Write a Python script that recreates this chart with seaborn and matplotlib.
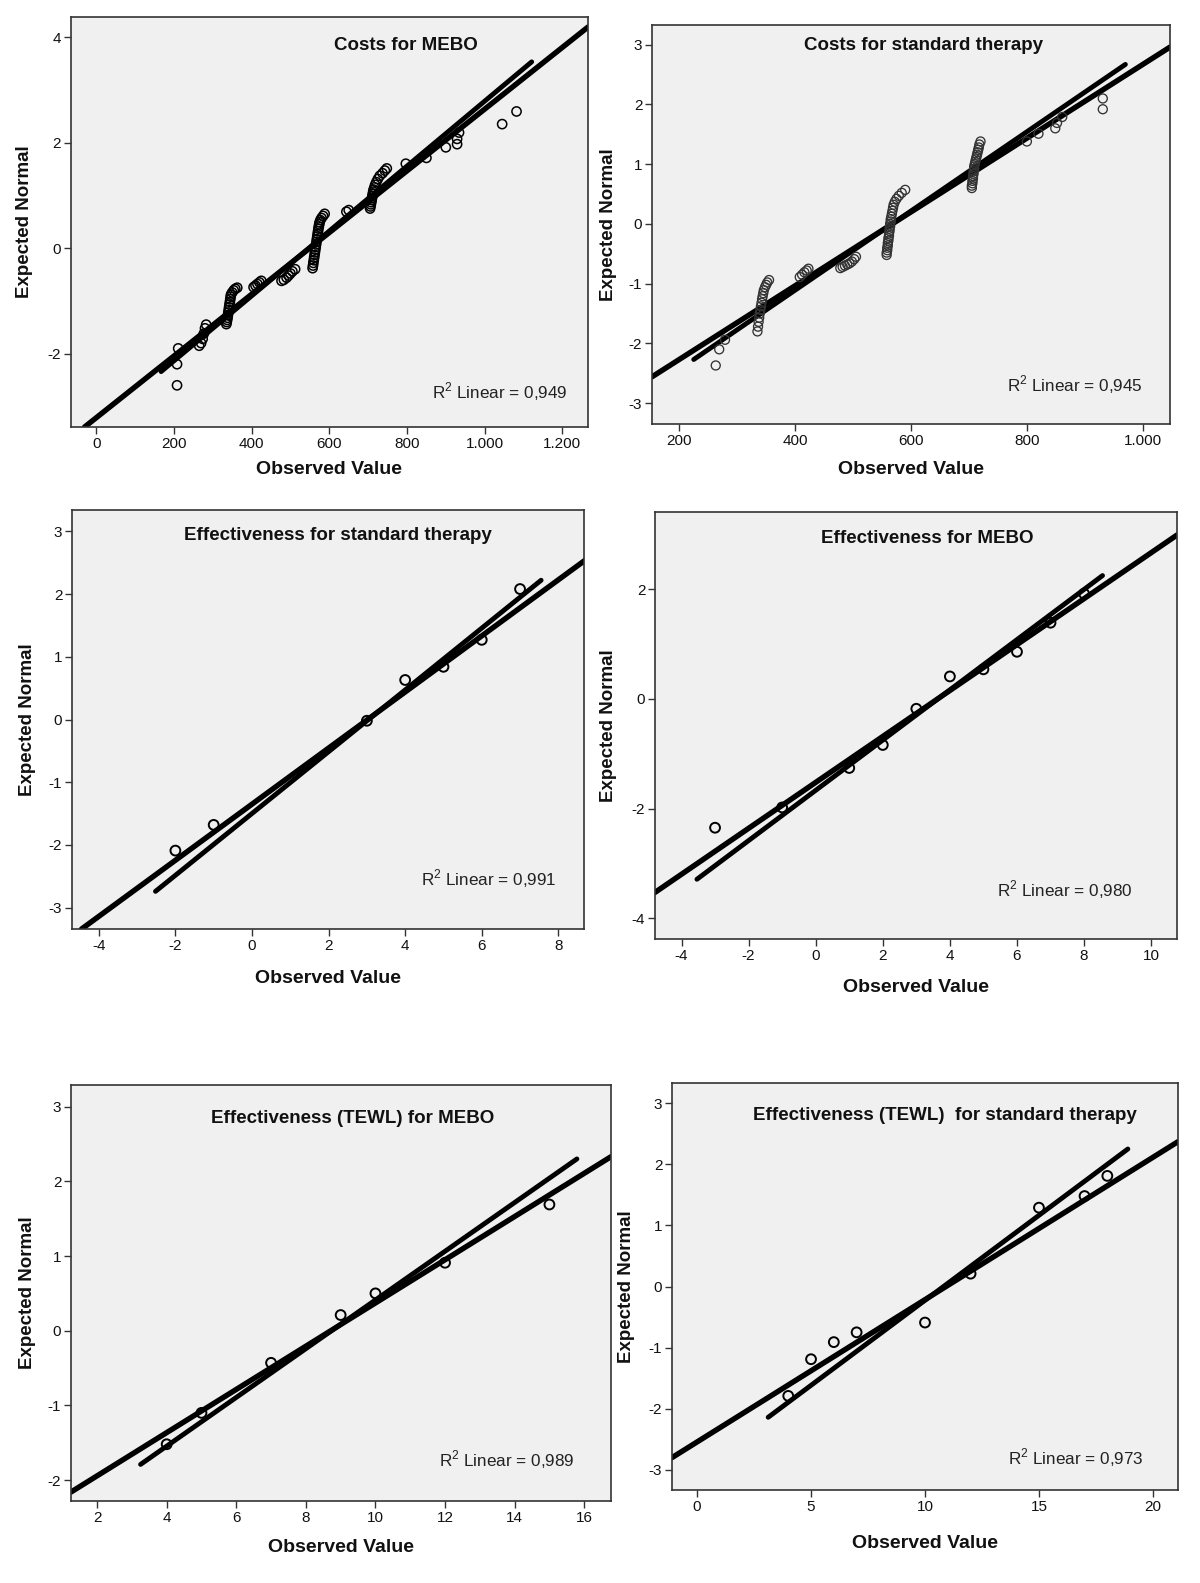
import matplotlib
matplotlib.use("Agg")
import matplotlib.pyplot as plt
import seaborn as sns

sns.set_theme(style="white")
plt.rcParams['font.family'] = ['Liberation Sans', 'DejaVu Sans']
plt.rcParams['mathtext.fontset'] = 'custom'
plt.rcParams['mathtext.rm'] = 'Liberation Sans'

# ---------------- data ----------------
# Panel 1: Costs for MEBO
p1_obs = [208, 208, 211,
          265, 270, 274, 277, 280, 283,
          335, 336, 337, 338, 339, 340, 341, 342, 343, 344, 345, 346, 347, 350, 354, 358, 363,
          405, 410, 415, 420, 425,
          477, 483, 490, 495, 500, 505, 512,
          557, 558, 559, 560, 561, 562, 563, 564, 565, 566, 567, 568, 569, 570, 571, 572, 573, 574, 575, 577, 580, 584, 588,
          644, 650,
          705, 706, 707, 708, 709, 710, 711, 712, 713, 714, 716, 718, 721, 725, 730, 737, 743, 748,
          797, 850, 900, 929, 929, 934, 1045, 1082]
p1_exp = [-2.60, -2.20, -1.90,
          -1.85, -1.80, -1.72, -1.62, -1.52, -1.45,
          -1.44, -1.40, -1.36, -1.32, -1.27, -1.22, -1.17, -1.12, -1.07, -1.02, -0.97, -0.92, -0.88, -0.84, -0.80, -0.77, -0.75,
          -0.74, -0.71, -0.68, -0.65, -0.62,
          -0.62, -0.60, -0.56, -0.52, -0.48, -0.44, -0.40,
          -0.38, -0.33, -0.28, -0.23, -0.18, -0.13, -0.08, -0.03, 0.02, 0.07, 0.12, 0.17, 0.22, 0.27, 0.32, 0.37, 0.41, 0.45, 0.49, 0.53, 0.57, 0.61, 0.65,
          0.69, 0.72,
          0.75, 0.79, 0.83, 0.87, 0.91, 0.95, 0.99, 1.03, 1.07, 1.11, 1.15, 1.20, 1.25, 1.31, 1.37, 1.42, 1.47, 1.51,
          1.60, 1.71, 1.91, 1.97, 2.07, 2.19, 2.35, 2.59]
p1_ref_x, p1_ref_y = [-30, 1266], [-3.39, 4.19]
p1_fit_x, p1_fit_y = [167, 1121], [-2.34, 3.53]
p1_xticks = [0, 200, 400, 600, 800, 1000, 1200]
p1_xlabels = ["0", "200", "400", "600", "800", "1.000", "1.200"]
p1_yticks = [-2, 0, 2, 4]
p1_title = "Costs for MEBO"
p1_r2 = "0,949"

# Panel 2: Costs for standard therapy
p2_obs = [263, 269, 279,
          335, 336, 337, 338, 339, 340, 341, 342, 343, 344, 345, 346, 348, 350, 352, 355,
          408, 412, 416, 420, 423,
          478, 482, 486, 490, 494, 498, 502, 505,
          558, 558, 559, 559, 560, 560, 561, 561, 562, 562, 563, 563, 564, 564, 565, 565, 566, 567, 568, 569, 570, 572, 575, 579, 584, 590,
          705, 705, 706, 706, 707, 707, 708, 708, 709, 709, 710, 711, 712, 713, 714, 715, 716, 717, 718, 720,
          800, 820, 849, 852, 861, 931, 931]
p2_exp = [-2.37, -2.10, -1.94,
          -1.80, -1.72, -1.64, -1.57, -1.50, -1.44, -1.38, -1.32, -1.26, -1.21, -1.16, -1.11, -1.06, -1.02, -0.98, -0.94,
          -0.89, -0.85, -0.81, -0.78, -0.75,
          -0.74, -0.72, -0.70, -0.68, -0.66, -0.63, -0.59, -0.55,
          -0.52, -0.48, -0.44, -0.40, -0.36, -0.32, -0.28, -0.24, -0.20, -0.16, -0.12, -0.08, -0.04, 0.00, 0.04, 0.08, 0.12, 0.17, 0.22, 0.27, 0.32, 0.37, 0.42, 0.47, 0.52, 0.57,
          0.60, 0.64, 0.68, 0.72, 0.76, 0.80, 0.84, 0.88, 0.92, 0.96, 1.00, 1.04, 1.08, 1.12, 1.16, 1.20, 1.24, 1.28, 1.33, 1.38,
          1.38, 1.51, 1.60, 1.69, 1.79, 1.92, 2.10]
p2_ref_x, p2_ref_y = [153, 1047], [-2.56, 2.96]
p2_fit_x, p2_fit_y = [225, 970], [-2.27, 2.67]
p2_xticks = [200, 400, 600, 800, 1000]
p2_xlabels = ["200", "400", "600", "800", "1.000"]
p2_yticks = [-3, -2, -1, 0, 1, 2, 3]
p2_title = "Costs for standard therapy"
p2_r2 = "0,945"

# Panel 3: Effectiveness for standard therapy
p3_obs = [-2, -1, 3, 4, 5, 6, 7]
p3_exp = [-2.09, -1.68, -0.02, 0.63, 0.84, 1.27, 2.08]
p3_ref_x, p3_ref_y = [-4.45, 8.7], [-3.34, 2.54]
p3_fit_x, p3_fit_y = [-2.52, 7.55], [-2.74, 2.22]
p3_xticks = [-4, -2, 0, 2, 4, 6, 8]
p3_xlabels = ["-4", "-2", "0", "2", "4", "6", "8"]
p3_yticks = [-3, -2, -1, 0, 1, 2, 3]
p3_title = "Effectiveness for standard therapy"
p3_r2 = "0,991"

# Panel 4: Effectiveness for MEBO
p4_obs = [-3, -1, 1, 2, 3, 4, 5, 6, 7, 8]
p4_exp = [-2.35, -1.98, -1.26, -0.84, -0.18, 0.41, 0.54, 0.86, 1.39, 1.92]
p4_ref_x, p4_ref_y = [-4.79, 10.77], [-3.53, 2.99]
p4_fit_x, p4_fit_y = [-3.54, 8.55], [-3.29, 2.25]
p4_xticks = [-4, -2, 0, 2, 4, 6, 8, 10]
p4_xlabels = ["-4", "-2", "0", "2", "4", "6", "8", "10"]
p4_yticks = [-4, -2, 0, 2]
p4_title = "Effectiveness for MEBO"
p4_r2 = "0,980"

# Panel 5: Effectiveness (TEWL) for MEBO
p5_obs = [4, 5, 7, 9, 10, 12, 15]
p5_exp = [-1.52, -1.10, -0.43, 0.21, 0.50, 0.91, 1.69]
p5_ref_x, p5_ref_y = [1.25, 16.77], [-2.16, 2.33]
p5_fit_x, p5_fit_y = [3.25, 15.79], [-1.79, 2.30]
p5_xticks = [2, 4, 6, 8, 10, 12, 14, 16]
p5_xlabels = ["2", "4", "6", "8", "10", "12", "14", "16"]
p5_yticks = [-2, -1, 0, 1, 2, 3]
p5_title = "Effectiveness (TEWL) for MEBO"
p5_r2 = "0,989"

# Panel 6: Effectiveness (TEWL) for standard therapy
p6_obs = [4, 5, 6, 7, 10, 12, 15, 17, 18]
p6_exp = [-1.79, -1.19, -0.91, -0.75, -0.59, 0.21, 1.29, 1.48, 1.81]
p6_ref_x, p6_ref_y = [-1.1, 21.1], [-2.80, 2.37]
p6_fit_x, p6_fit_y = [3.12, 18.9], [-2.14, 2.25]
p6_xticks = [0, 5, 10, 15, 20]
p6_xlabels = ["0", "5", "10", "15", "20"]
p6_yticks = [-3, -2, -1, 0, 1, 2, 3]
p6_title = "Effectiveness (TEWL)  for standard therapy"
p6_r2 = "0,973"

# ---------------- layout ----------------
W, H = 1200, 1583
fig = plt.figure(figsize=(W / 100, H / 100), dpi=100)
fig.patch.set_facecolor("white")

panels = [
    dict(obs=p1_obs, exp=p1_exp, rx=p1_ref_x, ry=p1_ref_y, fx=p1_fit_x, fy=p1_fit_y,
         xt=p1_xticks, xl=p1_xlabels, yt=p1_yticks, title=p1_title, r2=p1_r2,
         box=(70.6, 588, 17, 427), xlim=(-66, 1266), ylim=(-3.39, 4.38),
         tpos=(0.648, 0.93), rpos=(0.961, 0.085), ylab_px=25, xlab_py=470,
         ms=44, mlw=1.1, mec="black"),
    dict(obs=p2_obs, exp=p2_exp, rx=p2_ref_x, ry=p2_ref_y, fx=p2_fit_x, fy=p2_fit_y,
         xt=p2_xticks, xl=p2_xlabels, yt=p2_yticks, title=p2_title, r2=p2_r2,
         box=(652, 1170, 25, 424), xlim=(153, 1047), ylim=(-3.35, 3.33),
         tpos=(0.524, 0.949), rpos=(0.948, 0.099), ylab_px=608.6, xlab_py=469,
         ms=42, mlw=0.95, mec="#333333"),
    dict(obs=p3_obs, exp=p3_exp, rx=p3_ref_x, ry=p3_ref_y, fx=p3_fit_x, fy=p3_fit_y,
         xt=p3_xticks, xl=p3_xlabels, yt=p3_yticks, title=p3_title, r2=p3_r2,
         box=(72, 584, 510, 929), xlim=(-4.7, 8.67), ylim=(-3.34, 3.34),
         tpos=(0.52, 0.94), rpos=(0.947, 0.119), ylab_px=27.3, xlab_py=979,
         ms=50, mlw=1.4, mec="black"),
    dict(obs=p4_obs, exp=p4_exp, rx=p4_ref_x, ry=p4_ref_y, fx=p4_fit_x, fy=p4_fit_y,
         xt=p4_xticks, xl=p4_xlabels, yt=p4_yticks, title=p4_title, r2=p4_r2,
         box=(655, 1177, 512, 939), xlim=(-4.79, 10.77), ylim=(-4.38, 3.41),
         tpos=(0.521, 0.939), rpos=(0.915, 0.115), ylab_px=608.6, xlab_py=987,
         ms=50, mlw=1.4, mec="black"),
    dict(obs=p5_obs, exp=p5_exp, rx=p5_ref_x, ry=p5_ref_y, fx=p5_fit_x, fy=p5_fit_y,
         xt=p5_xticks, xl=p5_xlabels, yt=p5_yticks, title=p5_title, r2=p5_r2,
         box=(71, 611, 1085, 1501), xlim=(1.25, 16.77), ylim=(-2.28, 3.29),
         tpos=(0.522, 0.92), rpos=(0.933, 0.10), ylab_px=27.3, xlab_py=1547,
         ms=50, mlw=1.4, mec="black"),
    dict(obs=p6_obs, exp=p6_exp, rx=p6_ref_x, ry=p6_ref_y, fx=p6_fit_x, fy=p6_fit_y,
         xt=p6_xticks, xl=p6_xlabels, yt=p6_yticks, title=p6_title, r2=p6_r2,
         box=(672, 1178, 1083, 1490), xlim=(-1.1, 21.1), ylim=(-3.33, 3.33),
         tpos=(0.54, 0.921), rpos=(0.932, 0.079), ylab_px=626.8, xlab_py=1544,
         ms=50, mlw=1.4, mec="black"),
]

for p in panels:
    assert len(p["obs"]) == len(p["exp"])
    L, R, T, B = p["box"]
    ax = fig.add_axes([L / W, 1 - B / H, (R - L) / W, (B - T) / H])
    ax.set_facecolor("#f0f0f0")

    sns.lineplot(x=p["rx"], y=p["ry"], ax=ax, color="black", linewidth=3.9,
                 estimator=None, sort=False, zorder=2)
    sns.lineplot(x=p["fx"], y=p["fy"], ax=ax, color="black", linewidth=3.5,
                 estimator=None, sort=False, zorder=2)
    sns.scatterplot(x=p["obs"], y=p["exp"], ax=ax, marker="o", s=p["ms"],
                    facecolors="none", edgecolor=p["mec"], linewidth=p["mlw"], zorder=3)

    ax.set_xlim(*p["xlim"])
    ax.set_ylim(*p["ylim"])
    ax.set_xticks(p["xt"])
    ax.set_xticklabels(p["xl"])
    ax.set_yticks(p["yt"])
    ax.set_yticklabels([str(v) for v in p["yt"]])
    ax.tick_params(axis="both", which="major", direction="out", length=5, width=1,
                   color="#333333", labelsize=11, labelcolor="#111111", pad=2,
                   left=True, bottom=True, right=False, top=False)
    for s in ax.spines.values():
        s.set_color("#333333")
        s.set_linewidth(1.2)
        s.set_visible(True)

    ax.set_xlabel("Observed Value", fontsize=14, fontweight="bold", color="#111111")
    ax.set_ylabel("Expected Normal", fontsize=13.5, fontweight="bold", color="#111111")
    ax.xaxis.label.set_va("center")
    ax.yaxis.label.set_va("center")
    ax.xaxis.set_label_coords(0.5, -(p["xlab_py"] - B) / (B - T))
    ax.yaxis.set_label_coords((p["ylab_px"] - L) / (R - L), 0.5)

    ax.text(p["tpos"][0], p["tpos"][1], p["title"], transform=ax.transAxes,
            ha="center", va="center", fontsize=13.5, fontweight="bold", color="#111111")
    ax.text(p["rpos"][0], p["rpos"][1], "R$^{2}$ Linear = " + p["r2"],
            transform=ax.transAxes, ha="right", va="center", fontsize=12.3, color="#222222")

fig.savefig("out.png", dpi=100, facecolor="white")
